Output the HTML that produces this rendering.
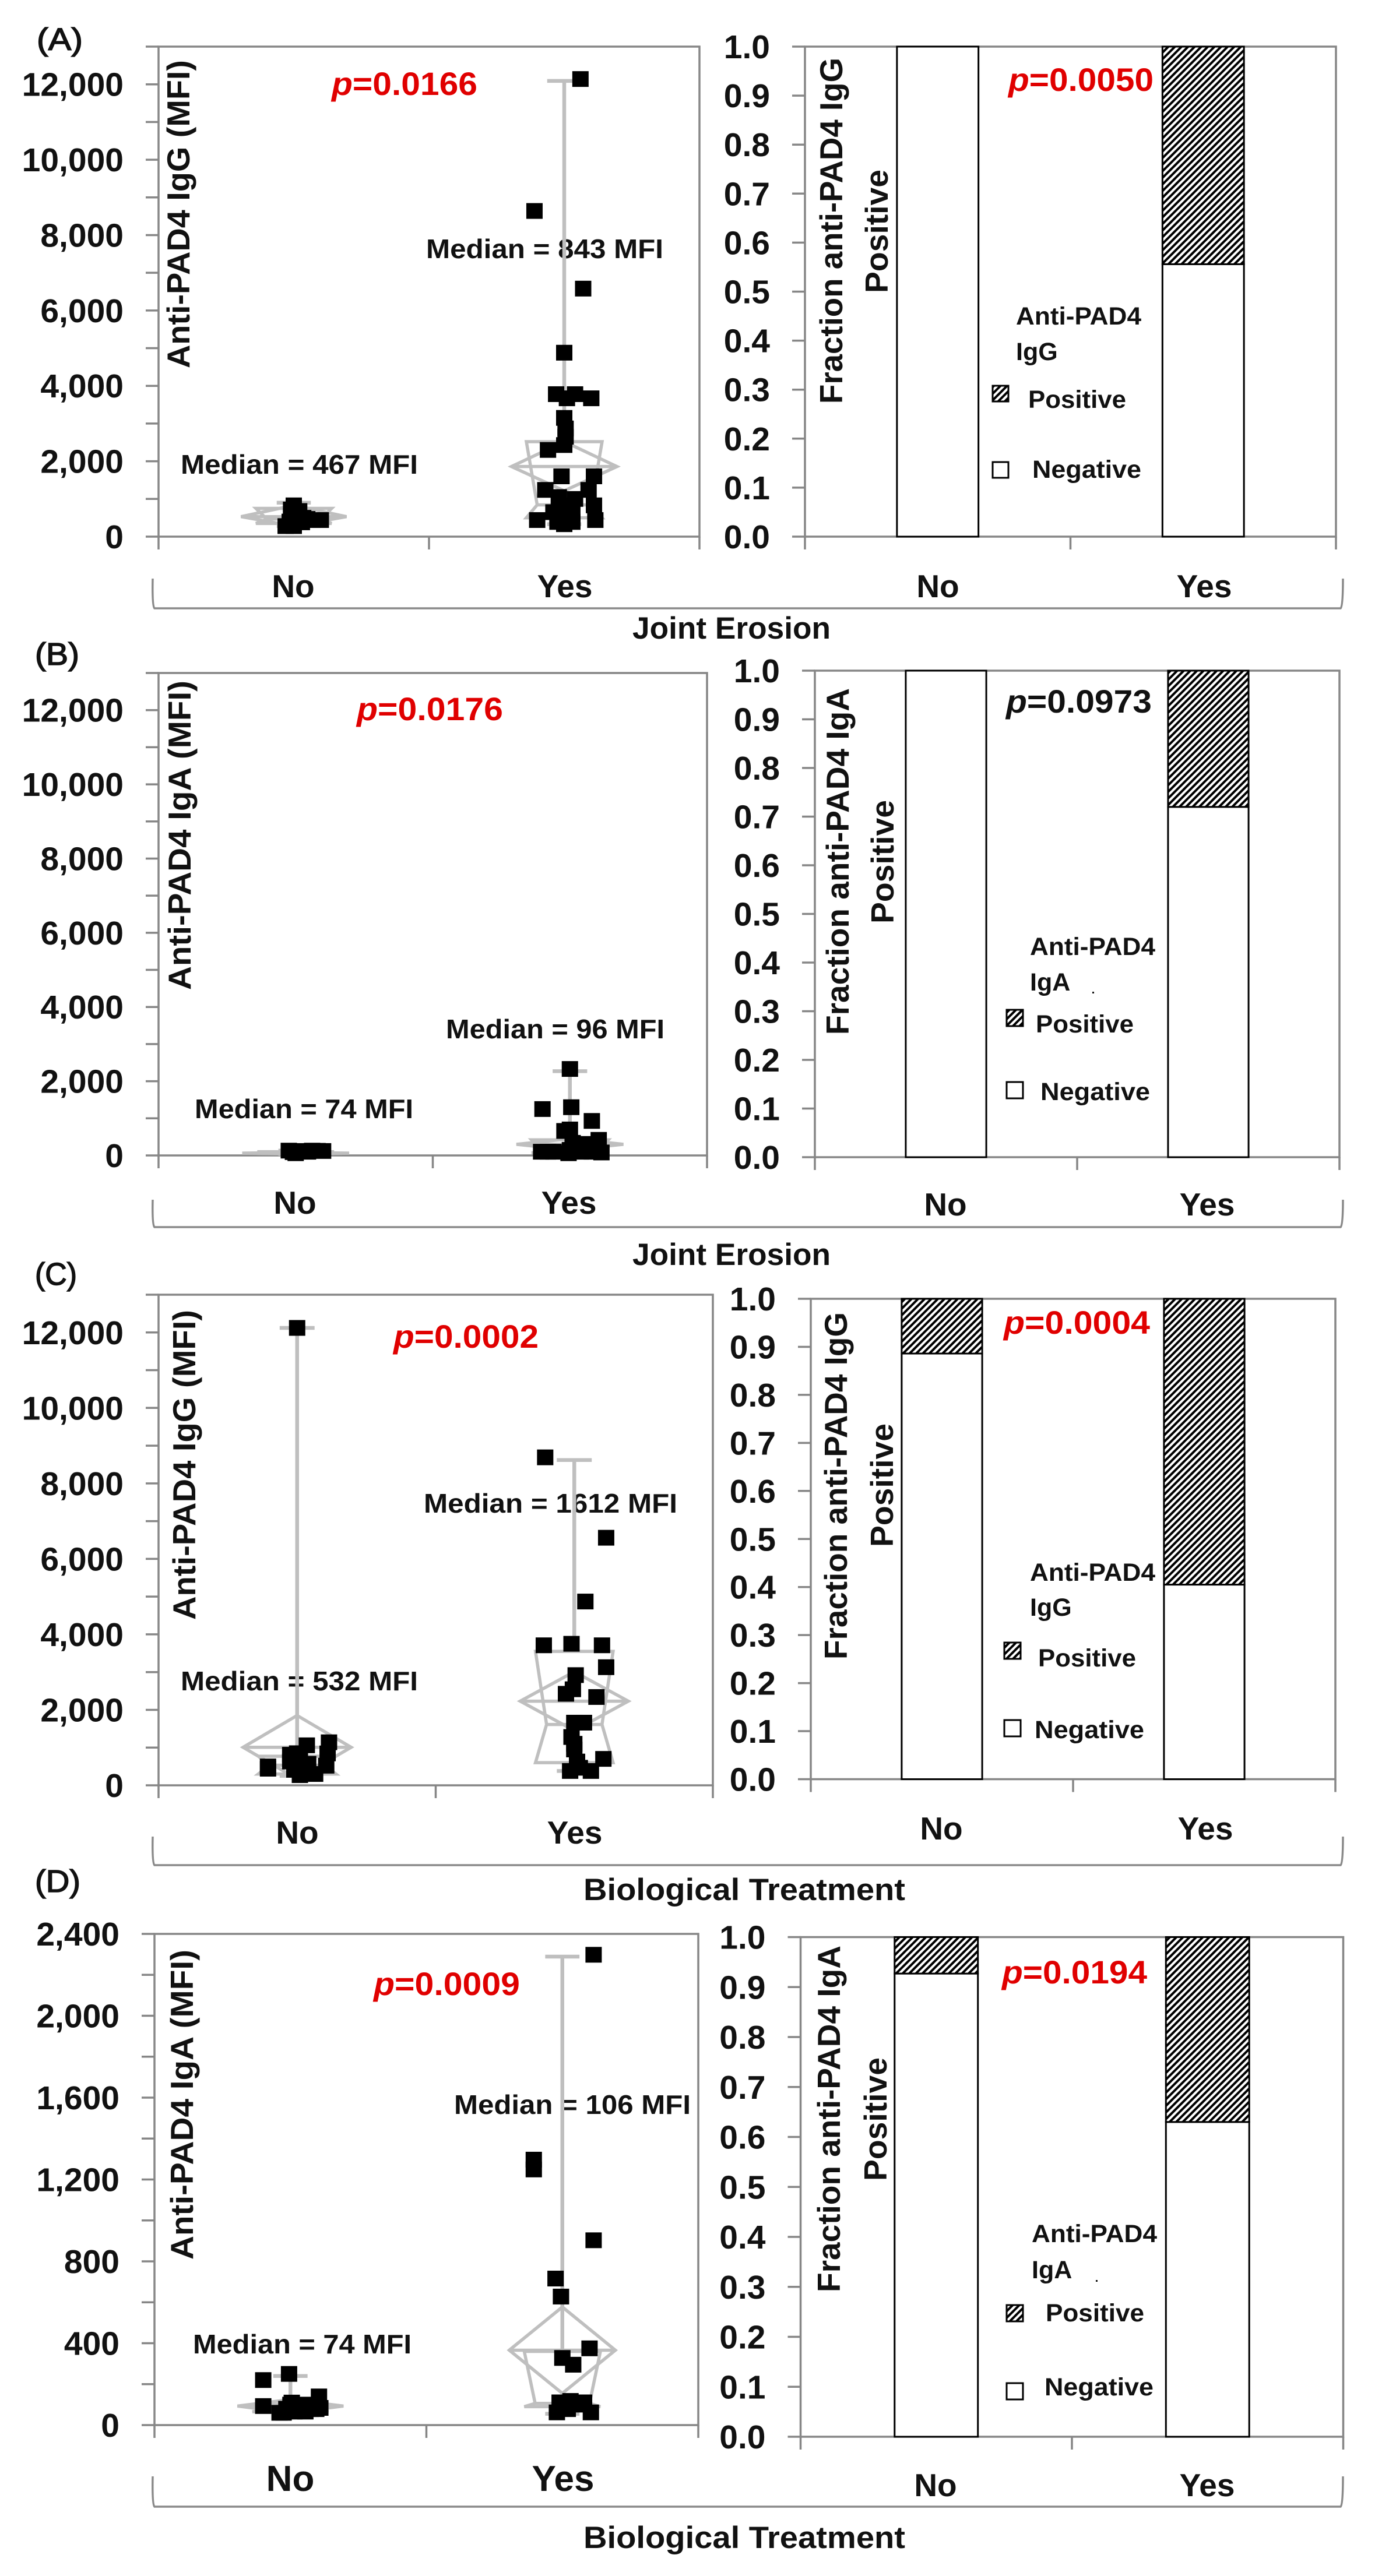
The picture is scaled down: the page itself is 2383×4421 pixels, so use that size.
<!DOCTYPE html>
<html lang="en">
<head>
<meta charset="utf-8">
<title>Anti-PAD4 antibody levels by joint erosion and biological treatment</title>
<style>
html,body{margin:0;padding:0;background:#fff;}
svg{display:block;}
text{font-family:"Liberation Sans",sans-serif;font-weight:bold;fill:#111;}
.pv{fill:#e00000;font-size:56px;}
.pk{fill:#111;font-size:56px;}
.med{font-size:46px;}
.cat{font-size:55px;}
.ttl{font-size:55px;}
.xt{font-size:53px;}
.pl{font-size:54px;font-weight:normal;stroke:#111;stroke-width:1.5px;}
.lg{font-size:43px;}
.brk{fill:none;stroke:#8a8a8a;stroke-width:3.5;}
.sw{stroke:#000;stroke-width:3;}
tspan.it{font-style:italic;}
</style>
</head>
<body>
<svg id="figure" xmlns="http://www.w3.org/2000/svg" width="2383" height="4421" viewBox="0 0 2383 4421">
<defs>
<pattern id="hatch" width="8" height="8" patternUnits="userSpaceOnUse" patternTransform="rotate(45)">
<rect width="8" height="8" fill="#fff"/>
<rect width="4" height="8" fill="#000"/>
</pattern>
</defs>
<rect width="2383" height="4421" fill="#fff"/>

<g id="panel-a">
<text class="pl" x="63" y="86" textLength="79" lengthAdjust="spacingAndGlyphs">(A)</text>
<text class="ttl" transform="translate(325,632) rotate(-90)" textLength="529" lengthAdjust="spacingAndGlyphs">Anti-PAD4 IgG (MFI)</text>
<text class="pv" x="569" y="163" textLength="250" lengthAdjust="spacingAndGlyphs"><tspan class="it">p</tspan>=0.0166</text>
<text class="med" x="731" y="443" textLength="407" lengthAdjust="spacingAndGlyphs">Median = 843 MFI</text>
<text class="med" x="310" y="813" textLength="407" lengthAdjust="spacingAndGlyphs">Median = 467 MFI</text>
<text class="cat" x="503" y="1025" text-anchor="middle">No</text>
<text class="cat" x="969" y="1025" text-anchor="middle">Yes</text>
<text class="ttl" transform="translate(1445,693) rotate(-90)" textLength="594" lengthAdjust="spacingAndGlyphs">Fraction anti-PAD4 IgG</text>
<text class="ttl" transform="translate(1523,503) rotate(-90)" textLength="212" lengthAdjust="spacingAndGlyphs">Positive</text>
<text class="pv" x="1730" y="156" textLength="249" lengthAdjust="spacingAndGlyphs"><tspan class="it">p</tspan>=0.0050</text>
<text class="cat" x="1609" y="1025" text-anchor="middle">No</text>
<text class="cat" x="2066" y="1025" text-anchor="middle">Yes</text>
<path class="brk" d="M262 993 Q261 1040 265 1044 L2300 1044 Q2304 1040 2304 993"/>
<text class="xt" x="1085" y="1096" textLength="340" lengthAdjust="spacingAndGlyphs">Joint Erosion</text>
</g>

<g id="panel-b">
<text class="pl" x="60" y="1141" textLength="76" lengthAdjust="spacingAndGlyphs">(B)</text>
<text class="ttl" transform="translate(327,1699) rotate(-90)" textLength="531" lengthAdjust="spacingAndGlyphs">Anti-PAD4 IgA (MFI)</text>
<text class="pv" x="612" y="1236" textLength="251" lengthAdjust="spacingAndGlyphs"><tspan class="it">p</tspan>=0.0176</text>
<text class="med" x="765" y="1782" textLength="375" lengthAdjust="spacingAndGlyphs">Median = 96 MFI</text>
<text class="med" x="334" y="1919" textLength="375" lengthAdjust="spacingAndGlyphs">Median = 74 MFI</text>
<text class="cat" x="506" y="2083" text-anchor="middle">No</text>
<text class="cat" x="976" y="2083" text-anchor="middle">Yes</text>
<text class="ttl" transform="translate(1456,1776) rotate(-90)" textLength="595" lengthAdjust="spacingAndGlyphs">Fraction anti-PAD4 IgA</text>
<text class="ttl" transform="translate(1533,1585) rotate(-90)" textLength="212" lengthAdjust="spacingAndGlyphs">Positive</text>
<text class="pk" x="1726" y="1223" textLength="250" lengthAdjust="spacingAndGlyphs"><tspan class="it">p</tspan>=0.0973</text>
<text class="cat" x="1622" y="2086" text-anchor="middle">No</text>
<text class="cat" x="2071" y="2086" text-anchor="middle">Yes</text>
<path class="brk" d="M262 2059 Q261 2102 265 2106 L2300 2106 Q2304 2102 2304 2059"/>
<text class="xt" x="1085" y="2171" textLength="340" lengthAdjust="spacingAndGlyphs">Joint Erosion</text>
</g>

<g id="panel-c">
<text class="pl" x="60" y="2205" textLength="72" lengthAdjust="spacingAndGlyphs">(C)</text>
<text class="ttl" transform="translate(335,2780) rotate(-90)" textLength="532" lengthAdjust="spacingAndGlyphs">Anti-PAD4 IgG (MFI)</text>
<text class="pv" x="675" y="2313" textLength="249" lengthAdjust="spacingAndGlyphs"><tspan class="it">p</tspan>=0.0002</text>
<text class="med" x="727" y="2596" textLength="435" lengthAdjust="spacingAndGlyphs">Median = 1612 MFI</text>
<text class="med" x="310" y="2901" textLength="407" lengthAdjust="spacingAndGlyphs">Median = 532 MFI</text>
<text class="cat" x="510" y="3164" text-anchor="middle">No</text>
<text class="cat" x="986" y="3164" text-anchor="middle">Yes</text>
<text class="ttl" transform="translate(1453,2848) rotate(-90)" textLength="596" lengthAdjust="spacingAndGlyphs">Fraction anti-PAD4 IgG</text>
<text class="ttl" transform="translate(1532,2655) rotate(-90)" textLength="212" lengthAdjust="spacingAndGlyphs">Positive</text>
<text class="pv" x="1722" y="2289" textLength="251" lengthAdjust="spacingAndGlyphs"><tspan class="it">p</tspan>=0.0004</text>
<text class="cat" x="1615" y="3157" text-anchor="middle">No</text>
<text class="cat" x="2068" y="3157" text-anchor="middle">Yes</text>
<path class="brk" d="M262 3152 Q261 3197 265 3201 L2300 3201 Q2304 3197 2304 3152"/>
<text class="xt" x="1001" y="3261" textLength="552" lengthAdjust="spacingAndGlyphs">Biological Treatment</text>
</g>

<g id="panel-d">
<text class="pl" x="60" y="3247" textLength="78" lengthAdjust="spacingAndGlyphs">(D)</text>
<text class="ttl" transform="translate(331,3878) rotate(-90)" textLength="532" lengthAdjust="spacingAndGlyphs">Anti-PAD4 IgA (MFI)</text>
<text class="pv" x="641" y="3424" textLength="251" lengthAdjust="spacingAndGlyphs"><tspan class="it">p</tspan>=0.0009</text>
<text class="med" x="779" y="3628" textLength="406" lengthAdjust="spacingAndGlyphs">Median = 106 MFI</text>
<text class="med" x="331" y="4039" textLength="375" lengthAdjust="spacingAndGlyphs">Median = 74 MFI</text>
<text class="cat" x="498" y="4275" text-anchor="middle" style="font-size:62px">No</text>
<text class="cat" x="966" y="4275" text-anchor="middle" style="font-size:62px">Yes</text>
<text class="ttl" transform="translate(1441,3934) rotate(-90)" textLength="595" lengthAdjust="spacingAndGlyphs">Fraction anti-PAD4 IgA</text>
<text class="ttl" transform="translate(1521,3743) rotate(-90)" textLength="212" lengthAdjust="spacingAndGlyphs">Positive</text>
<text class="pv" x="1719" y="3404" textLength="249" lengthAdjust="spacingAndGlyphs"><tspan class="it">p</tspan>=0.0194</text>
<text class="cat" x="1605" y="4284" text-anchor="middle">No</text>
<text class="cat" x="2071" y="4284" text-anchor="middle">Yes</text>
<path class="brk" d="M262 4250 Q261 4298 265 4302 L2300 4302 Q2304 4298 2304 4250"/>
<text class="xt" x="1001" y="4373" textLength="552" lengthAdjust="spacingAndGlyphs">Biological Treatment</text>
</g>

<g id="marks"></g>

<g id="legends">
<g>
<text class="lg" x="1743" y="557" textLength="215" lengthAdjust="spacingAndGlyphs">Anti-PAD4</text>
<text class="lg" x="1743" y="618">IgG</text>
<rect class="sw" x="1703" y="662" width="27" height="27" fill="url(#hatch)"/>
<text class="lg" x="1764" y="700" textLength="168" lengthAdjust="spacingAndGlyphs">Positive</text>
<rect class="sw" x="1703" y="793" width="27" height="27" fill="#fff"/>
<text class="lg" x="1771" y="820" textLength="187" lengthAdjust="spacingAndGlyphs">Negative</text>
</g>
<g>
<text class="lg" x="1767" y="1639" textLength="215" lengthAdjust="spacingAndGlyphs">Anti-PAD4</text>
<text class="lg" x="1767" y="1700">IgA</text>
<rect x="1874" y="1702" width="3" height="3" fill="#111"/>
<rect class="sw" x="1727" y="1733" width="28" height="28" fill="url(#hatch)"/>
<text class="lg" x="1777" y="1772" textLength="168" lengthAdjust="spacingAndGlyphs">Positive</text>
<rect class="sw" x="1727" y="1857" width="28" height="28" fill="#fff"/>
<text class="lg" x="1785" y="1888" textLength="188" lengthAdjust="spacingAndGlyphs">Negative</text>
</g>
<g>
<text class="lg" x="1767" y="2713" textLength="215" lengthAdjust="spacingAndGlyphs">Anti-PAD4</text>
<text class="lg" x="1767" y="2773">IgG</text>
<rect class="sw" x="1723" y="2819" width="28" height="28" fill="url(#hatch)"/>
<text class="lg" x="1781" y="2860" textLength="168" lengthAdjust="spacingAndGlyphs">Positive</text>
<rect class="sw" x="1723" y="2952" width="28" height="28" fill="#fff"/>
<text class="lg" x="1775" y="2983" textLength="188" lengthAdjust="spacingAndGlyphs">Negative</text>
</g>
<g>
<text class="lg" x="1770" y="3848" textLength="215" lengthAdjust="spacingAndGlyphs">Anti-PAD4</text>
<text class="lg" x="1770" y="3910">IgA</text>
<rect x="1880" y="3913" width="3" height="3" fill="#111"/>
<rect class="sw" x="1727" y="3956" width="28" height="28" fill="url(#hatch)"/>
<text class="lg" x="1794" y="3984" textLength="169" lengthAdjust="spacingAndGlyphs">Positive</text>
<rect class="sw" x="1727" y="4090" width="28" height="28" fill="#fff"/>
<text class="lg" x="1792" y="4111" textLength="187" lengthAdjust="spacingAndGlyphs">Negative</text>
</g>
</g>
</svg>

<script>
// ---------- chart data ----------
const categories = ['No', 'Yes'];

const mfiTicksWide = [0, 1000, 2000, 3000, 4000, 5000, 6000, 7000, 8000, 9000, 10000, 11000, 12000, 13000];
const mfiTickLabelsWide = ['0', '', '2,000', '', '4,000', '', '6,000', '', '8,000', '', '10,000', '', '12,000', ''];
const mfiTicksNarrow = [0, 200, 400, 600, 800, 1000, 1200, 1400, 1600, 1800, 2000, 2200, 2400];
const mfiTickLabelsNarrow = ['0', '', '400', '', '800', '', '1,200', '', '1,600', '', '2,000', '', '2,400'];
const fractionTicks = [0, 0.1, 0.2, 0.3, 0.4, 0.5, 0.6, 0.7, 0.8, 0.9, 1];
const fractionTickLabels = ['0.0', '0.1', '0.2', '0.3', '0.4', '0.5', '0.6', '0.7', '0.8', '0.9', '1.0'];

// negative fraction for [No, Yes]
const panelANegativeFraction = [1, 0.556];
const panelBNegativeFraction = [1, 0.72];
const panelCNegativeFraction = [0.886, 0.405];
const panelDNegativeFraction = [0.927, 0.63];

// scatter points: category-axis position (No = 1, Yes = 2, with jitter) and MFI value
const panelANoX = [1.0, 0.99, 1.02, 1.035, 0.99, 0.97, 1.0, 1.07, 1.10, 1.01, 0.985, 1.03, 1.05, 1.0];
const panelANoValues = [830, 720, 680, 500, 550, 280, 280, 440, 440, 440, 400, 380, 470, 620];
const panelAYesX = [2.06, 1.89, 2.07, 2.0, 1.97, 2.01, 2.04, 2.10, 2.0, 2.005, 2.005, 2.0, 1.94, 1.99, 2.11, 1.93, 2.09, 1.98, 2.04, 2.11, 2.0, 1.9, 1.975, 2.03, 2.115, 2.0, 1.975, 2.03, 2.015, 1.96];
const panelAYesValues = [12140, 8640, 6580, 4880, 3780, 3670, 3780, 3670, 3150, 2870, 2650, 2430, 2300, 1600, 1600, 1240, 1240, 1050, 1000, 830, 830, 440, 550, 600, 440, 330, 390, 390, 700, 650];

const panelBNoX = [0.975, 1.0, 1.0, 1.03, 1.06, 1.08, 1.10, 0.99, 1.045];
const panelBNoValues = [130, 60, 110, 120, 130, 125, 120, 90, 100];
const panelBYesX = [2.0, 1.9, 2.005, 2.08, 1.98, 2.0, 2.105, 2.05, 2.01, 1.895, 1.94, 1.995, 2.04, 2.115, 2.08, 1.92, 2.0];
const panelBYesValues = [2330, 1250, 1300, 930, 660, 700, 420, 310, 340, 100, 100, 60, 100, 80, 100, 100, 150];

const panelCNoX = [1.0, 0.895, 0.895, 1.115, 1.035, 1.11, 0.975, 0.975, 1.01, 1.04, 1.105, 1.065, 1.01, 0.99, 1.025, 1.0];
const panelCNoValues = [12120, 500, 440, 1140, 1060, 845, 810, 630, 680, 570, 520, 300, 270, 410, 410, 850];
const panelCYesX = [1.895, 2.115, 2.04, 1.89, 1.99, 2.10, 2.115, 2.005, 1.995, 1.97, 2.08, 2.035, 2.0, 1.99, 2.0, 2.0, 2.105, 2.01, 1.985, 2.06, 2.02];
const panelCYesValues = [8690, 6560, 4870, 3710, 3750, 3710, 3130, 2920, 2545, 2425, 2340, 1660, 1660, 1280, 950, 1100, 700, 630, 380, 380, 465];

const panelDNoX = [0.9, 0.9, 0.995, 1.105, 1.0, 0.975, 1.015, 1.055, 1.005, 1.05, 1.11, 1.095, 1.075, 0.96, 0.985, 1.035];
const panelDNoValues = [220, 93, 250, 140, 100, 60, 66, 66, 110, 100, 84, 78, 78, 60, 80, 85];
const panelDYesX = [2.115, 1.895, 1.895, 2.115, 1.975, 1.995, 2.1, 2.0, 2.04, 1.99, 2.03, 2.08, 1.98, 2.02, 2.105, 2.055, 2.0];
const panelDYesValues = [2298, 1297, 1249, 903, 716, 628, 375, 328, 295, 111, 118, 111, 62, 78, 62, 100, 89];

// box statistics: [whisker low, q1, median, q3, whisker high]
const panelANoBox = [280, 350, 467, 750, 900];
const panelAYesBox = [330, 500, 843, 2520, 12090];
const panelBNoBox = [40, 55, 74, 100, 130];
const panelBYesBox = [60, 70, 96, 420, 2270];
const panelCNoBox = [250, 300, 532, 770, 12120];
const panelCYesBox = [380, 600, 1612, 3550, 8620];
const panelDNoBox = [60, 65, 74, 100, 240];
const panelDYesBox = [55, 90, 106, 360, 2289];

// mean diamonds: [lower, mean, upper]
const panelANoDiamond = [280, 530, 830];
const panelAYesDiamond = [1215, 1860, 2520];
const panelBNoDiamond = [40, 60, 85];
const panelBYesDiamond = [150, 300, 450];
const panelCNoDiamond = [170, 1007, 1850];
const panelCYesDiamond = [1450, 2230, 3010];
const panelDNoDiamond = [60, 93, 125];
const panelDYesDiamond = [155, 366, 577];

// ---------- drawing ----------
const SVGNS = 'http://www.w3.org/2000/svg';
const AXIS = '#868686';
const BOX = '#bfbfbf';
const root = document.getElementById('marks');

function make(tag, attrs, parent) {
  const n = document.createElementNS(SVGNS, tag);
  for (const k in attrs) n.setAttribute(k, attrs[k]);
  parent.appendChild(n);
  return n;
}

function axisFrame(group, frame, ticks, labels, yOf, xOf, side) {
  const border = make('rect', {x: frame.x0, y: frame.top, width: frame.x1 - frame.x0, height: frame.base - frame.top, fill: 'none', stroke: AXIS, 'stroke-width': 3.5}, group);
  
  
  ticks.forEach(function (t, i) {
    const y = yOf(t);
    const tick = make('line', {x1: frame.x0 - 22, x2: frame.x0, y1: y, y2: y, stroke: AXIS, 'stroke-width': 3.5}, group);
    
    
    if (labels[i]) {
      const lab = make('text', {x: frame.x0 - 60, y: y + 20, 'text-anchor': 'end', 'font-size': 57}, group);
      lab.textContent = labels[i];
      
      
    }
  });
  [0.5, 1.5, 2.5].forEach(function (c) {
    const x = xOf(c);
    const tick = make('line', {x1: x, x2: x, y1: frame.base, y2: frame.base + 22, stroke: AXIS, 'stroke-width': 3.5}, group);
    
    
  });
}

function drawBox(group, cat, stats, diamond, xOf, yOf, unit) {
  const cx = xOf(cat);
  const w = 0.14 * unit, wn = 0.10 * unit, cap = 0.063 * unit, dw = 0.195 * unit;
  const style = {fill: 'none', stroke: BOX, 'stroke-width': 5.5, 'stroke-linejoin': 'miter'};
  const whiskerStyle = {stroke: BOX, 'stroke-width': 6.5};
  const low = yOf(stats[0]), q1 = yOf(stats[1]), med = yOf(stats[2]), q3 = yOf(stats[3]), high = yOf(stats[4]);

  const whiskerUp = make('line', Object.assign({x1: cx, x2: cx, y1: q3, y2: high}, whiskerStyle), group);
  
  
  const capUp = make('line', Object.assign({x1: cx - cap, x2: cx + cap, y1: high, y2: high}, whiskerStyle), group);
  
  
  const whiskerDown = make('line', Object.assign({x1: cx, x2: cx, y1: q1, y2: low}, whiskerStyle), group);
  
  
  const capDown = make('line', Object.assign({x1: cx - cap, x2: cx + cap, y1: low, y2: low}, whiskerStyle), group);
  
  

  const pts = [[cx - w, q3], [cx + w, q3], [cx + wn, med], [cx + w, q1], [cx - w, q1], [cx - wn, med]];
  const box = make('polygon', Object.assign({points: pts.map(function (p) { return p.join(','); }).join(' ')}, style), group);
  
  
  const medLine = make('line', Object.assign({x1: cx - wn, x2: cx + wn, y1: med, y2: med}, style), group);
  
  

  const dLow = yOf(diamond[0]), dMean = yOf(diamond[1]), dHigh = yOf(diamond[2]);
  const dPts = [[cx - dw, dMean], [cx, dHigh], [cx + dw, dMean], [cx, dLow]];
  const dia = make('polygon', Object.assign({points: dPts.map(function (p) { return p.join(','); }).join(' ')}, style), group);
  
  
  const meanLine = make('line', Object.assign({x1: cx - dw, x2: cx + dw, y1: dMean, y2: dMean}, style), group);
  
  
}

function drawPoints(group, xs, values, xOf, yOf, catName) {
  values.forEach(function (v, i) {
    const p = make('rect', {x: xOf(xs[i]) - 14, y: yOf(v) - 13.5, width: 28, height: 27, fill: '#000'}, group);
    
    
  });
}

function drawScatter(name, frame, yMax, ticks, labels, noX, noV, yesX, yesV, noBox, yesBox, noDia, yesDia) {
  const group = make('g', {}, root);
  
  
  const unit = (frame.x1 - frame.x0) / categories.length;
  const xOf = function (c) { return frame.x0 + (c - 0.5) * unit; };
  const yOf = function (v) { return frame.base - (v / yMax) * (frame.base - frame.top); };
  axisFrame(group, frame, ticks, labels, yOf, xOf, 'left');
  drawBox(group, 1, noBox, noDia, xOf, yOf, unit);
  drawBox(group, 2, yesBox, yesDia, xOf, yOf, unit);
  drawPoints(group, noX, noV, xOf, yOf, 'no');
  drawPoints(group, yesX, yesV, xOf, yOf, 'yes');
}

function drawBars(name, frame, negative) {
  const group = make('g', {}, root);
  
  
  const unit = (frame.x1 - frame.x0) / categories.length;
  const xOf = function (c) { return frame.x0 + (c - 0.5) * unit; };
  const yOf = function (v) { return frame.base - v * (frame.base - frame.top); };
  const bw = 0.307 * unit;
  axisFrame(group, frame, fractionTicks, fractionTickLabels, yOf, xOf, 'right');
  categories.forEach(function (cat, i) {
    const cx = xOf(i + 1);
    const neg = make('rect', {x: cx - bw / 2, y: yOf(negative[i]), width: bw, height: yOf(0) - yOf(negative[i]), fill: '#fff', stroke: '#000', 'stroke-width': 3}, group);
    
    
    if (negative[i] < 1) {
      const pos = make('rect', {x: cx - bw / 2, y: yOf(1), width: bw, height: yOf(negative[i]) - yOf(1), fill: 'url(#hatch)', stroke: '#000', 'stroke-width': 3}, group);
      
      
    }
  });
}

drawScatter('panel-a', {x0: 272, x1: 1200, top: 80, base: 921}, 13000, mfiTicksWide, mfiTickLabelsWide,
  panelANoX, panelANoValues, panelAYesX, panelAYesValues, panelANoBox, panelAYesBox, panelANoDiamond, panelAYesDiamond);
drawBars('panel-a', {x0: 1381, x1: 2292, top: 80, base: 921}, panelANegativeFraction);

drawScatter('panel-b', {x0: 272, x1: 1213, top: 1155, base: 1983}, 13000, mfiTicksWide, mfiTickLabelsWide,
  panelBNoX, panelBNoValues, panelBYesX, panelBYesValues, panelBNoBox, panelBYesBox, panelBNoDiamond, panelBYesDiamond);
drawBars('panel-b', {x0: 1398, x1: 2298, top: 1151, base: 1986}, panelBNegativeFraction);

drawScatter('panel-c', {x0: 272, x1: 1223, top: 2222, base: 3064}, 13000, mfiTicksWide, mfiTickLabelsWide,
  panelCNoX, panelCNoValues, panelCYesX, panelCYesValues, panelCNoBox, panelCYesBox, panelCNoDiamond, panelCYesDiamond);
drawBars('panel-c', {x0: 1391, x1: 2291, top: 2229, base: 3053.5}, panelCNegativeFraction);

drawScatter('panel-d', {x0: 265, x1: 1198, top: 3319, base: 4162}, 2400, mfiTicksNarrow, mfiTickLabelsNarrow,
  panelDNoX, panelDNoValues, panelDYesX, panelDYesValues, panelDNoBox, panelDYesBox, panelDNoDiamond, panelDYesDiamond);
drawBars('panel-d', {x0: 1373.5, x1: 2304.5, top: 3324.5, base: 4182}, panelDNegativeFraction);
</script>
</body>
</html>
